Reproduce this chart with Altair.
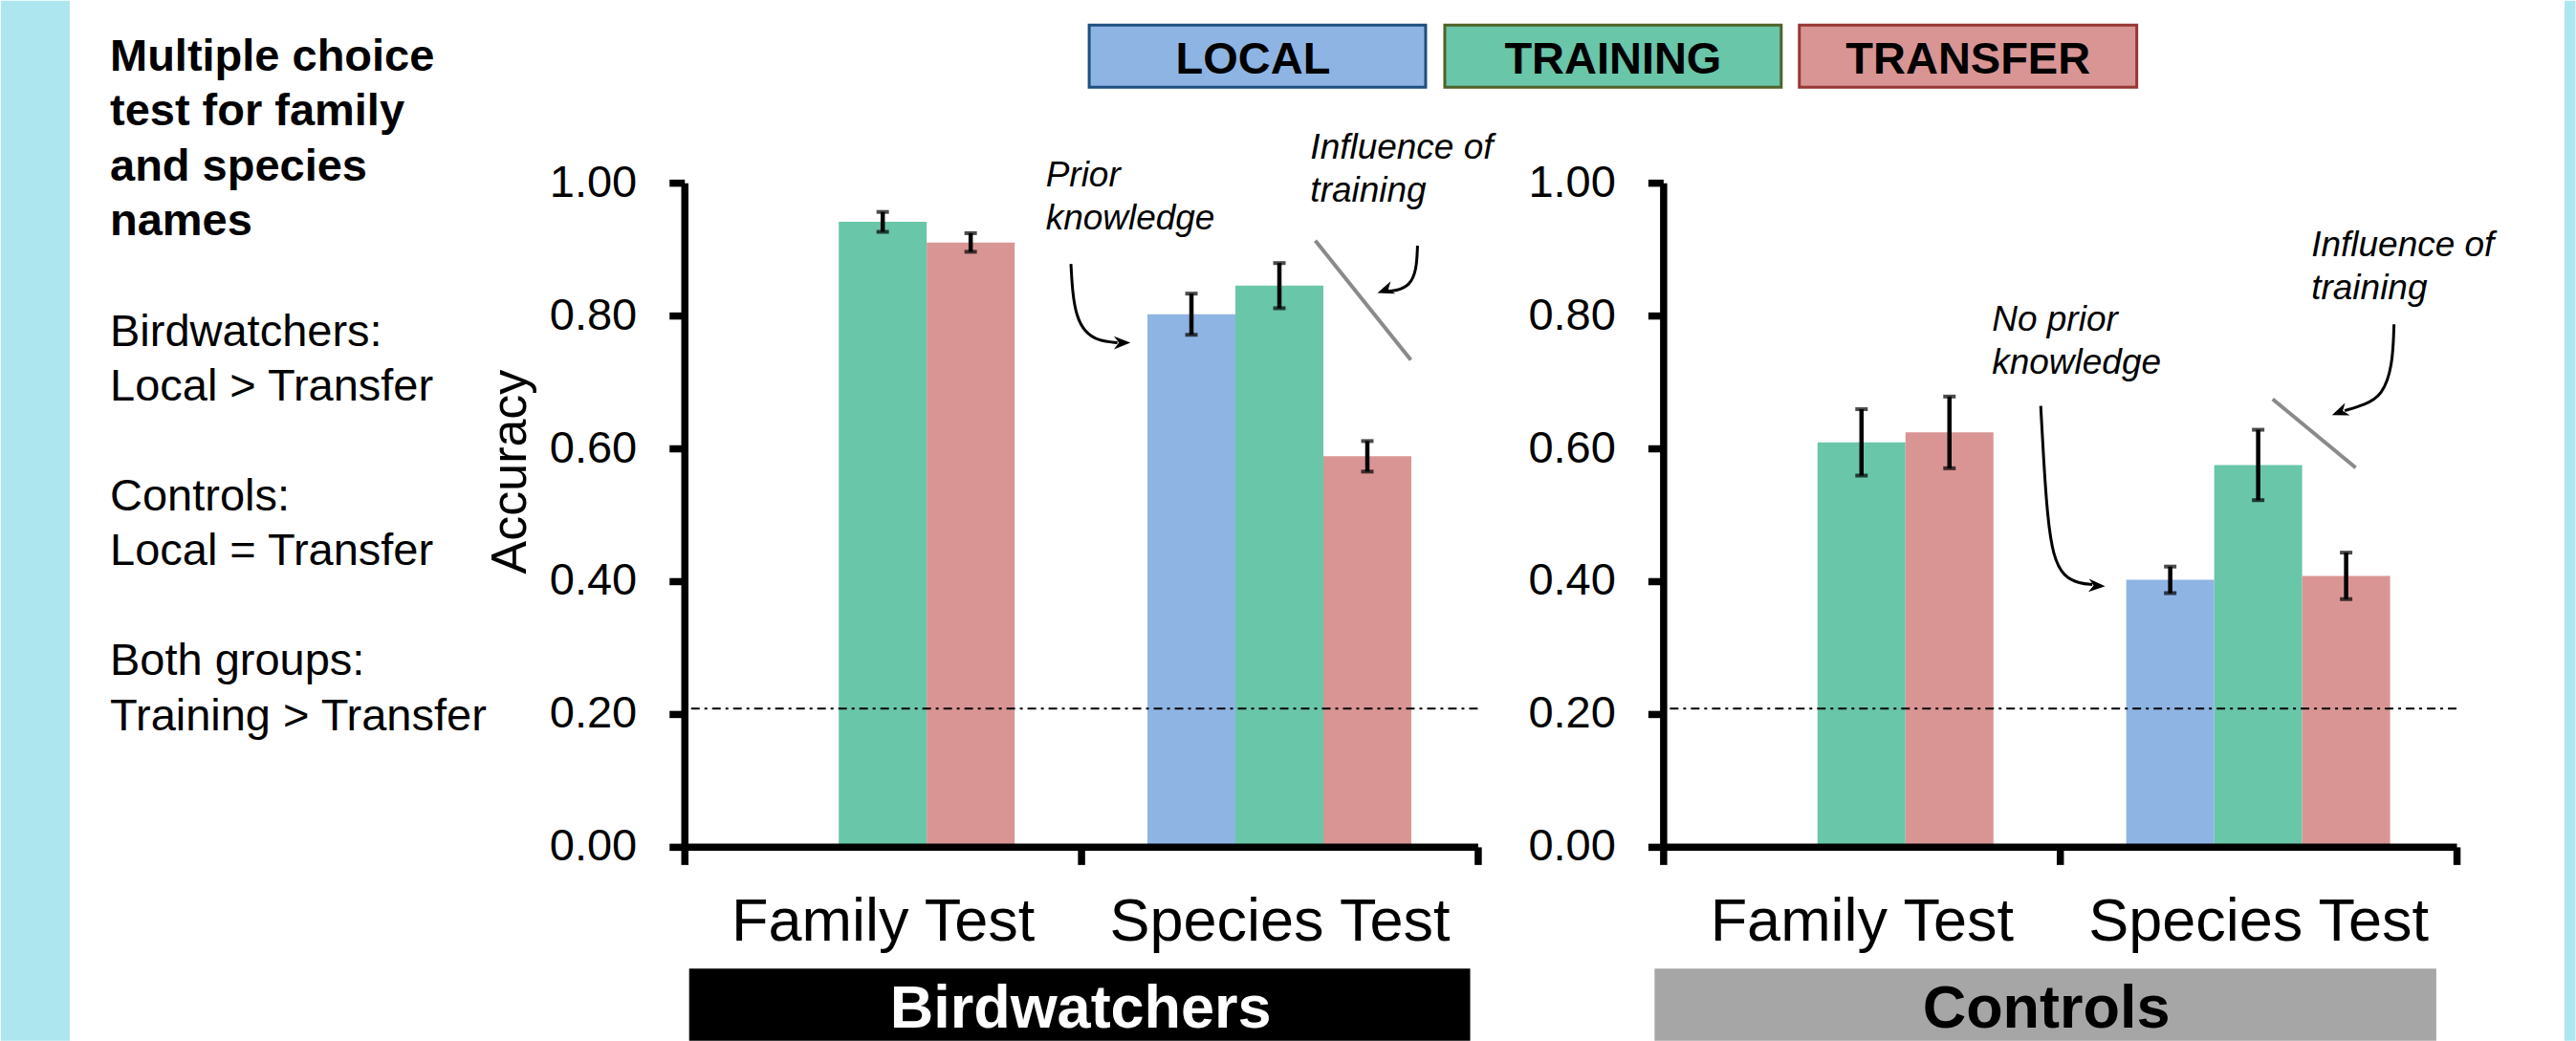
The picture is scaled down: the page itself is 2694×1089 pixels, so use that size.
import altair as alt
import pandas as pd

FONT = "Liberation Sans, Arial, Helvetica, sans-serif"

# ---------------------------------------------------------------- values
GROUPS = ["Birdwatchers", "Controls"]
TESTS = ["Family Test", "Species Test"]
CONDITIONS = ["LOCAL", "TRAINING", "TRANSFER"]

ROW_TEST = ["Family Test", "Family Test", "Species Test", "Species Test", "Species Test"]
ROW_COND = ["TRAINING", "TRANSFER", "LOCAL", "TRAINING", "TRANSFER"]

BIRD_MEAN = [0.941, 0.910, 0.802, 0.845, 0.588]
BIRD_SEM = [0.015, 0.014, 0.031, 0.034, 0.023]
CTRL_MEAN = [0.609, 0.624, 0.402, 0.575, 0.408]
CTRL_SEM = [0.050, 0.054, 0.020, 0.053, 0.035]

CHANCE = 0.208
Y_TICKS = [0.0, 0.2, 0.4, 0.6, 0.8, 1.0]

SUMMARY_HEAD = ["Multiple choice", "test for family", "and species", "names"]
SUMMARY_BLOCKS = [
    ["Birdwatchers:", "Local > Transfer"],
    ["Controls:", "Local = Transfer"],
    ["Both groups:", "Training > Transfer"],
]

# ---------------------------------------------------------------- colours
BAR_FILL = ["#8eb4e3", "#69c6a9", "#d99594"]
KEY_BORDER = ["#1f4e80", "#4f6228", "#953735"]
GROUP_FILL = ["#000000", "#a6a6a6"]
GROUP_TEXT = ["#ffffff", "#000000"]
PAGE_EDGE = "#ade6ef"
SLASH_GREY = "#8a8a8a"

# ---------------------------------------------------------------- annotation frame
# u runs across the two test bands (0 = left edge, 1 = boundary, 2 = right edge),
# v is in accuracy units.
KEY_U0 = [1.0205, 1.9169, 2.8108]
KEY_U1 = [1.8687, 2.7651, 3.6614]
KEY_TEXT_U = [1.4337, 2.3410, 3.2361]
KEY_V0, KEY_V1, KEY_TEXT_V = 1.1439, 1.2374, 1.164

SUMMARY_U = -1.448
SUMMARY_HEAD_V = 1.169
SUMMARY_BLOCK_V = [0.7547, 0.5065, 0.2583]

EDGE_LEFT_U = (-1.7229, -1.5494)
EDGE_RIGHT_U = (2.2723, 2.3000)
EDGE_V = (-0.2921, 1.2741)

GROUP_BOX_V = (-0.2921, -0.1835)
GROUP_TEXT_V = -0.2727
BIRD_BOX_U = (0.012, 1.981)
BIRD_LABEL_U = 0.999
CTRL_BOX_U = (-0.0217, 1.949)
CTRL_LABEL_U = 0.966

BIRD_NOTES = [
    {"u": 0.911, "v": 0.995, "t": ["Prior", "knowledge"]},
    {"u": 1.578, "v": 1.036, "t": ["Influence of", "training"]},
]
CTRL_NOTES = [
    {"u": 0.829, "v": 0.777, "t": ["No prior", "knowledge"]},
    {"u": 1.634, "v": 0.890, "t": ["Influence of", "training"]},
]

BIRD_ARROWS = {
    "prior": [(0.9745, 0.8777), (0.9783, 0.8353), (0.9880, 0.7993),
              (1.0096, 0.7748), (1.0434, 0.7619), (1.0916, 0.7590)],
    "training": [(1.8482, 0.9052), (1.8458, 0.8683), (1.8289, 0.8453),
                 (1.7952, 0.8374), (1.7759, 0.8367)],
}
BIRD_HEADS = [(1.1036, 0.7590, 0), (1.7667, 0.8381, 160)]
CTRL_ARROWS = {
    "prior": [(0.9518, 0.6640), (0.9590, 0.5835), (0.9687, 0.4971), (0.9831, 0.4367),
              (1.0096, 0.4065), (1.0506, 0.3964), (1.0819, 0.3950)],
    "training": [(1.8424, 0.7868), (1.8390, 0.7235), (1.8125, 0.6794),
                 (1.7687, 0.6656), (1.7181, 0.6568)],
}
CTRL_HEADS = [(1.0935, 0.3931, 3), (1.7055, 0.6547, 159)]

BIRD_SLASH = [(1.5904, 0.9129, 1.8313, 0.7331)]
CTRL_SLASH = [(1.5364, 0.6741, 1.7458, 0.5709)]

ARROW_HEAD = "M1,0L-1,-0.8L-0.4,0L-1,0.8Z"

PANEL_W, PANEL_H = 830, 695

# ---------------------------------------------------------------- scales
u_scale = alt.Scale(domain=[0, 2], nice=False, zero=False)
acc_scale = alt.Scale(domain=[0, 1], nice=False, zero=True)
fill_scale = alt.Scale(domain=CONDITIONS, range=BAR_FILL)
band_scale = alt.Scale(domain=TESTS, paddingInner=0, paddingOuter=0)
offset_scale = alt.Scale(domain=CONDITIONS, paddingInner=0, paddingOuter=0.755)


def y_axis(with_title):
    kw = dict(orient="left", values=Y_TICKS, format=".2f", labelFont=FONT, labelFontSize=47,
              labelColor="black", labelPadding=34, labelFlush=False, labelOverlap=False,
              tickSize=16, tickWidth=7.5, tickColor="black",
              domainColor="black", domainWidth=7.5, grid=False, zindex=1)
    if with_title:
        kw.update(titleFont=FONT, titleFontSize=52, titleFontWeight="normal",
                  titleColor="black", titleX=-182, titleY=302, titleAngle=270,
                  titleAlign="center", titleBaseline="middle")
    return alt.Axis(**kw)


x_axis = alt.Axis(orient="bottom", labelFont=FONT, labelFontSize=63, labelColor="black",
                  labelAngle=0, labelPadding=29, labelLimit=800, tickSize=18.5, tickWidth=7.5,
                  tickColor="black", tickBand="extent", domainColor="black",
                  domainWidth=7.5, grid=False, zindex=1)


def data_layers(mean, sem, with_title):
    df = pd.DataFrame({"test": ROW_TEST, "cond": ROW_COND, "mean": mean, "sem": sem})
    df["lo"] = df["mean"] - df["sem"]
    df["hi"] = df["mean"] + df["sem"]
    base = alt.Chart(df)
    xo = alt.XOffset("cond:N", scale=offset_scale)
    bars = base.mark_bar().encode(
        x=alt.X("test:N", scale=band_scale, axis=x_axis, title=None),
        xOffset=xo,
        y=alt.Y("mean:Q", scale=acc_scale, axis=y_axis(with_title),
                title="Accuracy" if with_title else None),
        color=alt.Color("cond:N", scale=fill_scale, legend=None),
    )
    stems = base.mark_rule(color="black", strokeWidth=4.5).encode(
        x=alt.X("test:N", scale=band_scale, axis=None),
        xOffset=xo,
        y=alt.Y("lo:Q", scale=acc_scale, axis=None),
        y2="hi:Q",
    )
    caps = base.transform_fold(["lo", "hi"], as_=["end", "val"]).mark_tick(
        color="black", size=13, thickness=4
    ).encode(
        x=alt.X("test:N", scale=band_scale, axis=None),
        xOffset=xo,
        y=alt.Y("val:Q", scale=acc_scale, axis=None),
    )
    chance = alt.Chart(pd.DataFrame({"chance": [CHANCE]})).mark_rule(
        color="black", strokeWidth=2, strokeDash=[9, 5, 3, 5]
    ).encode(y=alt.Y("chance:Q", scale=acc_scale, axis=None))
    return [bars, stems, caps, chance]


def ux(field):
    return alt.X(field, type="quantitative", scale=u_scale, axis=None)


def vy(field):
    return alt.Y(field, type="quantitative", scale=acc_scale, axis=None)


def note_layers(notes, arrows, heads, slashes):
    text = alt.Chart(alt.Data(values=notes)).mark_text(
        align="left", baseline="alphabetic", font=FONT, fontSize=37,
        fontStyle="italic", lineHeight=45, color="black"
    ).encode(x=ux("u"), y=vy("v"), text=alt.Text("t:N"))
    pts = []
    for name, path in arrows.items():
        for i, (u, v) in enumerate(path):
            pts.append({"arrow": name, "i": i, "u": u, "v": v})
    curves = alt.Chart(alt.Data(values=pts)).mark_line(
        color="black", strokeWidth=3, interpolate="basis"
    ).encode(x=ux("u"), y=vy("v"), detail=alt.Detail("arrow:N"), order=alt.Order("i:Q"))
    tips = alt.Chart(alt.Data(values=[{"u": u, "v": v, "a": a} for u, v, a in heads])).mark_point(
        shape=ARROW_HEAD, filled=True, color="black", size=300, opacity=1
    ).encode(x=ux("u"), y=vy("v"), angle=alt.Angle("a:Q", scale=None))
    slash = alt.Chart(alt.Data(values=[{"u0": a, "v0": b, "u1": c, "v1": d}
                                       for a, b, c, d in slashes])).mark_rule(
        color=SLASH_GREY, strokeWidth=4
    ).encode(x=ux("u0"), y=vy("v0"), x2="u1:Q", y2="v1:Q")
    return [slash, curves, tips, text]


def edge_strip(u_pair):
    return alt.Chart(alt.Data(values=[{"u0": u_pair[0], "u1": u_pair[1],
                                       "v0": EDGE_V[0], "v1": EDGE_V[1]}])).mark_rect(
        color=PAGE_EDGE
    ).encode(x=ux("u0"), x2="u1:Q", y=vy("v0"), y2="v1:Q")


def group_box(gi, box_u, label_u):
    rec = [{"g": GROUPS[gi], "u0": box_u[0], "u1": box_u[1],
            "v0": GROUP_BOX_V[0], "v1": GROUP_BOX_V[1], "tu": label_u, "tv": GROUP_TEXT_V}]
    box = alt.Chart(alt.Data(values=rec)).mark_rect(color=GROUP_FILL[gi]).encode(
        x=ux("u0"), x2="u1:Q", y=vy("v0"), y2="v1:Q")
    label = alt.Chart(alt.Data(values=rec)).mark_text(
        align="center", baseline="alphabetic", font=FONT, fontSize=63,
        fontWeight="bold", color=GROUP_TEXT[gi]
    ).encode(x=ux("tu"), y=vy("tv"), text=alt.Text("g:N"))
    return [box, label]


def key_layers():
    rec = [{"cond": c, "u0": KEY_U0[i], "u1": KEY_U1[i], "v0": KEY_V0, "v1": KEY_V1,
            "tu": KEY_TEXT_U[i], "tv": KEY_TEXT_V} for i, c in enumerate(CONDITIONS)]
    boxes = alt.Chart(alt.Data(values=rec)).mark_rect(strokeWidth=3).encode(
        x=ux("u0"), x2="u1:Q", y=vy("v0"), y2="v1:Q",
        color=alt.Color("cond:N", scale=fill_scale, legend=None),
        stroke=alt.Stroke("cond:N", scale=alt.Scale(domain=CONDITIONS, range=KEY_BORDER),
                          legend=None),
    )
    labels = alt.Chart(alt.Data(values=rec)).mark_text(
        align="center", baseline="alphabetic", font=FONT, fontSize=47,
        fontWeight="bold", color="black"
    ).encode(x=ux("tu"), y=vy("tv"), text=alt.Text("cond:N"))
    return [boxes, labels]


def summary_layers():
    rows = [{"u": SUMMARY_U, "v": SUMMARY_HEAD_V, "t": SUMMARY_HEAD}]
    head = alt.Chart(alt.Data(values=rows)).mark_text(
        align="left", baseline="alphabetic", font=FONT, fontSize=47, fontWeight="bold",
        lineHeight=57.5, color="black"
    ).encode(x=ux("u"), y=vy("v"), text=alt.Text("t:N"))
    rows = [{"u": SUMMARY_U, "v": v, "t": lines}
            for v, lines in zip(SUMMARY_BLOCK_V, SUMMARY_BLOCKS)]
    body = alt.Chart(alt.Data(values=rows)).mark_text(
        align="left", baseline="alphabetic", font=FONT, fontSize=47,
        lineHeight=57.5, color="black"
    ).encode(x=ux("u"), y=vy("v"), text=alt.Text("t:N"))
    return [head, body]


# ---------------------------------------------------------------- panels
bird = alt.layer(
    edge_strip(EDGE_LEFT_U), *summary_layers(), *key_layers(),
    *group_box(0, BIRD_BOX_U, BIRD_LABEL_U),
    *data_layers(BIRD_MEAN, BIRD_SEM, True),
    *note_layers(BIRD_NOTES, BIRD_ARROWS, BIRD_HEADS, BIRD_SLASH),
).resolve_scale(x="independent", y="independent").properties(width=PANEL_W, height=PANEL_H)

ctrl = alt.layer(
    edge_strip(EDGE_RIGHT_U),
    *group_box(1, CTRL_BOX_U, CTRL_LABEL_U),
    *data_layers(CTRL_MEAN, CTRL_SEM, False),
    *note_layers(CTRL_NOTES, CTRL_ARROWS, CTRL_HEADS, CTRL_SLASH),
).resolve_scale(x="independent", y="independent").properties(width=PANEL_W, height=PANEL_H)

chart = alt.hconcat(bird, ctrl, spacing=194, bounds="flush").properties(
    padding=0, background="white"
).configure(font=FONT).configure_view(stroke=None)

chart.save("out.html", embed_options={"renderer": "svg", "actions": False})
